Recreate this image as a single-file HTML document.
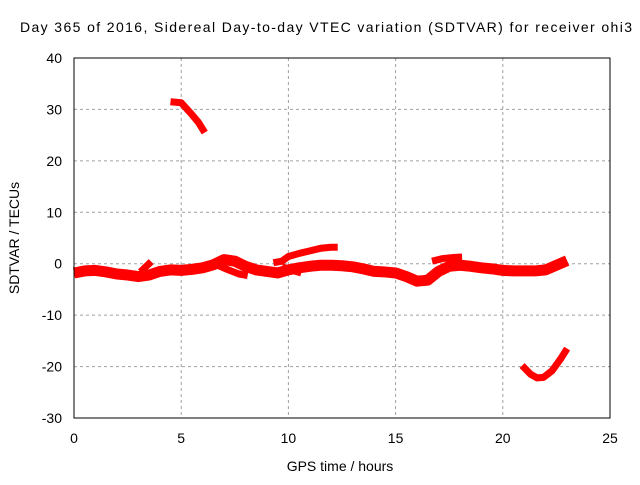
<!DOCTYPE html>
<html><head><meta charset="utf-8"><style>
body{margin:0;background:#fff;font-family:"Liberation Sans",sans-serif}
svg text{font-family:"Liberation Sans",sans-serif;font-size:14px;fill:#000}
</style></head><body>
<svg id="c" width="640" height="480" xmlns="http://www.w3.org/2000/svg">
<text x="20" y="32" textLength="612" lengthAdjust="spacing">Day 365 of 2016, Sidereal Day-to-day VTEC variation (SDTVAR) for receiver ohi3</text>
<text x="340" y="471" text-anchor="middle">GPS time / hours</text>
<text transform="translate(19,238) rotate(-90)" text-anchor="middle">SDTVAR / TECUs</text>
<g id="grid"></g><g id="marks"></g>
<rect x="74" y="58" width="536" height="360" fill="none" stroke="#000"/>
</svg>
<script>
const xTicks=[0,5,10,15,20,25];
const yTicks=[-30,-20,-10,0,10,20,30,40];
const segMain=[[0,-1.8],[0.5,-1.4],[1,-1.3],[1.5,-1.6],[2,-2],[2.5,-2.2],[3,-2.5],[3.5,-2.2],[4,-1.5],[4.5,-1.2],[5,-1.3],[5.5,-1.1],[6,-0.8],[6.5,-0.2],[7,0.8],[7.5,0.5],[8,-0.5],[8.5,-1.2],[9,-1.5],[9.5,-1.8],[10,-1.2],[10.5,-0.8],[11,-0.5],[11.5,-0.3],[12,-0.3],[12.5,-0.4],[13,-0.6],[13.5,-1],[14,-1.5],[14.5,-1.6],[15,-1.8],[15.5,-2.5],[16,-3.4],[16.5,-3.2],[17,-1.5],[17.5,-0.5],[18,-0.3],[18.5,-0.5],[19,-0.8],[19.5,-1],[20,-1.3],[20.5,-1.4],[21,-1.4],[21.5,-1.4],[22,-1.2],[22.5,-0.3],[23,0.6]];
const segB1=[[3.1,-1.6],[3.4,-0.4],[3.6,0.4]];
const segB2=[[6.7,-0.3],[7.2,-1.2],[7.7,-2],[8.1,-2.3]];
const segB3=[[9.3,0.2],[9.7,0.5],[10,1.4],[10.5,2],[11,2.5],[11.5,3],[12,3.2],[12.3,3.2]];
const segB4=[[9.7,-0.6],[10.2,-1.3],[10.6,-1.8]];
const segB5=[[16.7,0.5],[17.2,1],[17.7,1.2],[18.1,1.3]];
const segHigh=[[4.5,31.5],[5,31.3],[5.5,29],[5.8,27.5],[6.1,25.5]];
const segLow=[[20.9,-19.8],[21.3,-21.5],[21.6,-22.2],[21.9,-22.1],[22.3,-20.8],[22.7,-18.5],[23,-16.5]];
const X=v=>74+v*536/25, Y=v=>58+(40-v)*360/70;
const NS="http://www.w3.org/2000/svg";
const g=document.getElementById('grid'),m=document.getElementById('marks');
xTicks.forEach(t=>{
 if(t>0&&t<25){const l=document.createElementNS(NS,'line');l.setAttribute('x1',X(t));l.setAttribute('x2',X(t));l.setAttribute('y1',58);l.setAttribute('y2',418);l.setAttribute('stroke','#a0a0a0');l.setAttribute('stroke-dasharray','3,3');
 
 g.appendChild(l);}
 const s=document.createElementNS(NS,'text');s.setAttribute('x',X(t));s.setAttribute('y',443);s.setAttribute('text-anchor','middle');s.textContent=t;
 
 g.appendChild(s);
});
yTicks.forEach(t=>{
 if(t>-30&&t<40){const l=document.createElementNS(NS,'line');l.setAttribute('x1',74);l.setAttribute('x2',610);l.setAttribute('y1',Y(t));l.setAttribute('y2',Y(t));l.setAttribute('stroke','#a0a0a0');l.setAttribute('stroke-dasharray','3,3');
 
 g.appendChild(l);}
 const s=document.createElementNS(NS,'text');s.setAttribute('x',62);s.setAttribute('y',Y(t)+5);s.setAttribute('text-anchor','end');s.textContent=t;
 
 g.appendChild(s);
});
[segMain,segB1,segB2,segB3,segB4,segB5,segHigh,segLow].forEach((seg,i)=>{
 const p=document.createElementNS(NS,'polyline');
 p.setAttribute('points',seg.map(d=>X(d[0])+','+Y(d[1])).join(' '));
 p.setAttribute('fill','none');p.setAttribute('stroke','#ff0000');p.setAttribute('stroke-width',i==0?11:7);p.setAttribute('stroke-linejoin','round');
 
 
 m.appendChild(p);
});
</script>
</body></html>
